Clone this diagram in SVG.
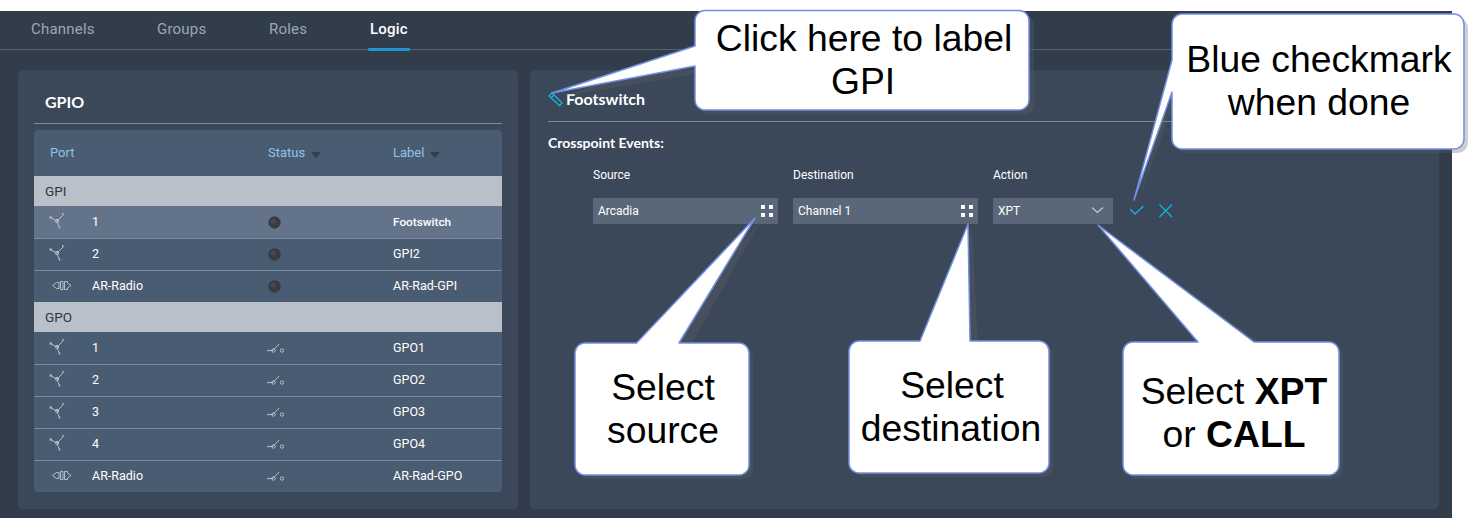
<svg xmlns="http://www.w3.org/2000/svg" width="1478" height="518" viewBox="0 0 1478 518">
<style>
.ui{font-family:Roboto,"Liberation Sans",sans-serif}
.tab{font-size:15px;fill:#9aa8b6;letter-spacing:.2px}
.hd{font-size:13px;fill:#8fc3e8}
.cell{font-size:12.5px;fill:#fff}
.band{font-size:13.5px;fill:#2b3645}
.fld{font-size:12px;fill:#fff}
.lat{font-family:Lato,"Liberation Sans",sans-serif;font-weight:700;fill:#fff}
.co{font-family:"Liberation Sans",Arial,sans-serif;font-size:37.3px;fill:#000;text-anchor:middle}
.bubble{fill:#fff;stroke:#7390e2;stroke-width:1.5;stroke-linejoin:round}
.shadow{fill:#5f6062;opacity:.3}
.sep{stroke:#7a8aa1;stroke-width:1}
.ic{fill:none;stroke:#b5bdc8;stroke-width:1}
.hi{fill:none;stroke:#17b3e0;stroke-width:1.3}
</style>
<defs>
<g id="net" class="ic"><path d="M-7-3L-1 0L5-6M-1 0L1 6"/><circle cx="-1" cy="0" r="1.600"/><path d="M-8.500-3.500h2.500M4.500-6.500l1-1M.8 6.500h1.500" stroke-width="1.800"/></g>
<g id="plug" class="ic"><path d="M-9.500 0l4-3h2.500v6h-2.500zM-1.500-4h2.500v8h-2.500zM2.500-4h3v1.500l3.500 2.500-3.500 2.500v1.500h-3z"/></g>
<g id="led"><circle r="5.800" fill="#3a3a41" stroke="#2e3540" stroke-width=".6"/><circle cx="-1" cy="-1.500" r="2.800" fill="#47474e"/></g>
<g id="sw" class="ic"><path d="M-9 1.500h6M-3 1.500L3-5"/><circle cx="-2.500" cy="1.500" r="1.700"/><circle cx="6" cy="1.500" r="1.700"/></g>
<path id="sort" d="M0 0h10l-5 6z" fill="#343e4d"/>
</defs>

<rect width="1478" height="518" fill="#fff"/>
<rect y="11" width="1452" height="507" fill="#323d4b"/>
<path d="M0 49.500H1452" stroke="#55616f"/>

<g id="tabs" class="ui">
<text class="tab" x="31" y="34">Channels</text>
<text class="tab" x="157" y="34">Groups</text>
<text class="tab" x="269" y="34">Roles</text>
<text class="tab" x="370" y="34" style="fill:#fff;font-weight:500">Logic</text>
<rect x="368" y="48" width="42" height="3" rx="1" fill="#1f95d0"/>
</g>

<g id="gpio-panel">
<rect x="18" y="70" width="500" height="439" rx="5" fill="#3b4859"/>
<text class="lat" x="45" y="108" font-size="16">GPIO</text>
<path d="M34 123.500H502" stroke="#7f8a98"/>
<path d="M34 134a4 4 0 0 1 4-4h460a4 4 0 0 1 4 4v354a4 4 0 0 1-4 4H38a4 4 0 0 1-4-4z" fill="#4a5c72"/>
<rect x="34" y="206" width="468" height="32" fill="#62738a"/>
<rect x="34" y="176" width="468" height="30" fill="#b9c0ca"/>
<rect x="34" y="302" width="468" height="30" fill="#b9c0ca"/>
<path class="sep" d="M34 238.500H502M34 270.500H502M34 364.500H502M34 396.500H502M34 428.500H502M34 460.500H502"/>
<g class="ui">
<text class="hd" x="50" y="157">Port</text>
<text class="hd" x="268" y="157">Status</text><use href="#sort" x="311" y="152"/>
<text class="hd" x="393" y="157">Label</text><use href="#sort" x="430" y="152"/>
<text class="band" x="45" y="196">GPI</text>
<text class="band" x="45" y="322">GPO</text>
<text class="cell" x="92" y="226">1</text><text class="cell" x="393" y="226" style="font-size:11.800px;font-weight:500">Footswitch</text>
<text class="cell" x="92" y="258">2</text><text class="cell" x="393" y="258">GPI2</text>
<text class="cell" x="92" y="290">AR-Radio</text><text class="cell" x="393" y="290">AR-Rad-GPI</text>
<text class="cell" x="92" y="352">1</text><text class="cell" x="393" y="352">GPO1</text>
<text class="cell" x="92" y="384">2</text><text class="cell" x="393" y="384">GPO2</text>
<text class="cell" x="92" y="416">3</text><text class="cell" x="393" y="416">GPO3</text>
<text class="cell" x="92" y="448">4</text><text class="cell" x="393" y="448">GPO4</text>
<text class="cell" x="92" y="480">AR-Radio</text><text class="cell" x="393" y="480">AR-Rad-GPO</text>
</g>
<use href="#net" x="58" y="221"/><use href="#net" x="58" y="253"/><use href="#plug" x="62" y="285.500"/>
<use href="#net" x="58" y="347"/><use href="#net" x="58" y="379"/><use href="#net" x="58" y="411"/><use href="#net" x="58" y="443"/><use href="#plug" x="62" y="475.500"/>
<use href="#led" x="274.500" y="222.500"/><use href="#led" x="274.500" y="254.500"/><use href="#led" x="274.500" y="286.500"/>
<use href="#sw" x="276" y="349"/><use href="#sw" x="276" y="381"/><use href="#sw" x="276" y="413"/><use href="#sw" x="276" y="445"/><use href="#sw" x="276" y="477"/>
</g>

<g id="event-panel">
<rect x="530" y="70" width="909" height="439" rx="5" fill="#3b4859"/>
<path class="hi" d="M549 96l3-3 10 10-2.500 2.500zM551 98l3-3" stroke-width="1"/>
<text class="lat" x="566" y="105" font-size="16">Footswitch</text>
<path d="M548 121.500H1439" stroke="#7f8a98"/>
<text class="lat" x="548" y="148" font-size="14">Crosspoint Events:</text>
<g class="ui">
<text class="fld" x="593" y="179">Source</text>
<text class="fld" x="793" y="179">Destination</text>
<text class="fld" x="993" y="179">Action</text>
<rect x="593" y="198" width="185" height="26" fill="#5a6778"/>
<rect x="793" y="198" width="185" height="26" fill="#5a6778"/>
<rect x="993" y="198" width="120" height="26" fill="#5a6778"/>
<text class="fld" x="598" y="215">Arcadia</text>
<text class="fld" x="798" y="215">Channel 1</text>
<text class="fld" x="998" y="215">XPT</text>
</g>
<path fill="#fff" d="M761 205h4v4h-4zM769 205h4v4h-4zM761 213h4v4h-4zM769 213h4v4h-4zM961 205h4v4h-4zM969 205h4v4h-4zM961 213h4v4h-4zM969 213h4v4h-4z"/>
<path d="M1092 207.500l5.500 5 5.500-5" fill="none" stroke="#c4c9d0" stroke-width="1.200"/>
<path class="hi" d="M1130 209l5 5 8.500-8M1159.500 204.500l12.500 12.500M1172 204.500l-12.500 12.500"/>
</g>

<g id="connectors">
<path class="shadow" d="M560 97L700 53V73z"/>
<path class="shadow" d="M1138 203L1176 65V97z"/>
<path class="shadow" d="M645 347L760 222L690 347z"/>
<path class="shadow" d="M930 345L972 228L978 345z"/>
<path class="shadow" d="M1208 346L1102 229L1264 346z"/>
</g>

<g id="callout-label">
<rect class="shadow" x="700" y="15" width="334" height="100" rx="10"/>
<path class="bubble" d="M705 10.500H1019a10 10 0 0 1 10 10V100a10 10 0 0 1-10 10H705a10 10 0 0 1-10-10V66L552 93 695 46V20.500a10 10 0 0 1 10-10z"/>
<text class="co" x="864" y="51">Click here to label</text>
<text class="co" x="863" y="94">GPI</text>
</g>

<g id="callout-check">
<rect class="shadow" x="1176" y="18" width="292" height="135" rx="10"/>
<path class="bubble" d="M1182 14H1454a10 10 0 0 1 10 10V139a10 10 0 0 1-10 10H1182a10 10 0 0 1-10-10V92L1134 200 1172 60V24a10 10 0 0 1 10-10z"/>
<text class="co" x="1319" y="72">Blue checkmark</text>
<text class="co" x="1319" y="115">when done</text>
</g>

<g id="callout-source">
<rect class="shadow" x="579" y="347" width="174" height="132" rx="10"/>
<path class="bubble" d="M585 343H636.500L755 218 679 343H739a10 10 0 0 1 10 10V465a10 10 0 0 1-10 10H585a10 10 0 0 1-10-10V353a10 10 0 0 1 10-10z"/>
<text class="co" x="663" y="400">Select</text>
<text class="co" x="663" y="443">source</text>
</g>

<g id="callout-destination">
<rect class="shadow" x="853" y="345" width="200" height="132" rx="10"/>
<path class="bubble" d="M859 341H920L968 224 970 341H1039a10 10 0 0 1 10 10V463a10 10 0 0 1-10 10H859a10 10 0 0 1-10-10V351a10 10 0 0 1 10-10z"/>
<text class="co" x="952" y="398">Select</text>
<text class="co" x="951" y="441">destination</text>
</g>

<g id="callout-action">
<rect class="shadow" x="1127" y="346" width="216" height="133" rx="10"/>
<path class="bubble" d="M1133 342H1198L1098 225 1254 342H1329a10 10 0 0 1 10 10V465a10 10 0 0 1-10 10H1133a10 10 0 0 1-10-10V352a10 10 0 0 1 10-10z"/>
<text class="co" x="1234" y="404">Select <tspan font-weight="700">XPT</tspan></text>
<text class="co" x="1234" y="447">or <tspan font-weight="700">CALL</tspan></text>
</g>
</svg>
